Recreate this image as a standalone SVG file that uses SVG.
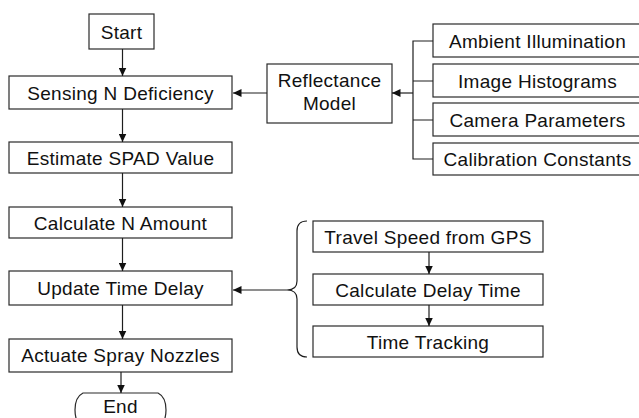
<svg xmlns="http://www.w3.org/2000/svg" width="639" height="418" viewBox="0 0 639 418">
  <style>
    .box { fill: #ffffff; stroke: #2a2a2a; stroke-width: 1.2; }
    .lbl { font-family: "Liberation Sans", Arial, sans-serif; font-size: 19px; letter-spacing: 0.3px; fill: #111111; text-anchor: middle; }
    .wire { fill: none; stroke: #1e1e1e; stroke-width: 1.2; }
  </style>
  <defs>
    <marker id="arrow" markerUnits="userSpaceOnUse" markerWidth="9" markerHeight="8" refX="8.5" refY="4" orient="auto">
      <path d="M0,0 L8.5,4 L0,8 Z" fill="#111111"/>
    </marker>
  </defs>
  <rect width="639" height="418" fill="#ffffff"/>

  <!-- main flow -->
  <g id="start">
    <rect class="box" x="89" y="14" width="65" height="35"/>
    <text class="lbl" x="121.5" y="39">Start</text>
  </g>
  <g id="sensing">
    <rect class="box" x="9" y="76" width="223" height="33"/>
    <text class="lbl" x="120.5" y="99.5">Sensing N Deficiency</text>
  </g>
  <g id="estimate">
    <rect class="box" x="9" y="142" width="223" height="31"/>
    <text class="lbl" x="120.5" y="164.5">Estimate SPAD Value</text>
  </g>
  <g id="calc-n">
    <rect class="box" x="9" y="207" width="223" height="31"/>
    <text class="lbl" x="120.5" y="229.5">Calculate N Amount</text>
  </g>
  <g id="update">
    <rect class="box" x="9" y="271" width="223" height="34"/>
    <text class="lbl" x="120.5" y="295">Update Time Delay</text>
  </g>
  <g id="actuate">
    <rect class="box" x="9" y="339" width="223" height="33"/>
    <text class="lbl" x="120.5" y="362">Actuate Spray Nozzles</text>
  </g>
  <g id="end">
    <path class="box" d="M83,393 L158,393 Q166,397 166,410 Q166,423 158,427 L83,427 Q75,423 75,410 Q75,397 83,393 Z"/>
    <text class="lbl" x="120.5" y="412.5">End</text>
  </g>

  <!-- reflectance model and its inputs -->
  <g id="reflectance">
    <rect class="box" x="267" y="64" width="125" height="59"/>
    <text class="lbl" x="329.5" y="87">Reflectance</text>
    <text class="lbl" x="329.5" y="110">Model</text>
  </g>
  <g id="ambient">
    <rect class="box" x="433" y="24" width="220" height="33"/>
    <text class="lbl" x="537.5" y="47.5">Ambient Illumination</text>
  </g>
  <g id="histograms">
    <rect class="box" x="433" y="64" width="220" height="33"/>
    <text class="lbl" x="537.5" y="87.5">Image Histograms</text>
  </g>
  <g id="camera">
    <rect class="box" x="433" y="103" width="220" height="33"/>
    <text class="lbl" x="537.5" y="126.5">Camera Parameters</text>
  </g>
  <g id="calibration">
    <rect class="box" x="433" y="143" width="220" height="32"/>
    <text class="lbl" x="537.5" y="166">Calibration Constants</text>
  </g>

  <!-- time delay sub-steps -->
  <g id="travel-speed">
    <rect class="box" x="313" y="221" width="230" height="31"/>
    <text class="lbl" x="428" y="244">Travel Speed from GPS</text>
  </g>
  <g id="calc-delay">
    <rect class="box" x="313" y="274" width="230" height="31"/>
    <text class="lbl" x="428" y="296.5">Calculate Delay Time</text>
  </g>
  <g id="time-tracking">
    <rect class="box" x="313" y="326" width="230" height="31"/>
    <text class="lbl" x="428" y="348.5">Time Tracking</text>
  </g>

  <g id="connectors">
    <line class="wire" x1="122.5" y1="49" x2="122.5" y2="76" marker-end="url(#arrow)"/>
    <line class="wire" x1="122.5" y1="109" x2="122.5" y2="142" marker-end="url(#arrow)"/>
    <line class="wire" x1="122.5" y1="173" x2="122.5" y2="207" marker-end="url(#arrow)"/>
    <line class="wire" x1="122.5" y1="238" x2="122.5" y2="271" marker-end="url(#arrow)"/>
    <line class="wire" x1="122.5" y1="305" x2="122.5" y2="339" marker-end="url(#arrow)"/>
    <line class="wire" x1="121" y1="372" x2="121" y2="393" marker-end="url(#arrow)"/>

    <line class="wire" x1="267" y1="93" x2="233" y2="93" marker-end="url(#arrow)"/>
    <path class="wire" d="M433,41 H413 V159 H433 M413,81 H433 M413,120 H433"/>
    <line class="wire" x1="413" y1="93" x2="392" y2="93" marker-end="url(#arrow)"/>

    <path class="wire" d="M307,221 Q297,221 297,231 L297,281 Q297,290 287,290 Q297,290 297,299 L297,347 Q297,357 307,357"/>
    <line class="wire" x1="287" y1="290" x2="233" y2="290" marker-end="url(#arrow)"/>

    <line class="wire" x1="429" y1="252" x2="429" y2="274" marker-end="url(#arrow)"/>
    <line class="wire" x1="429" y1="305" x2="429" y2="326" marker-end="url(#arrow)"/>
  </g>
</svg>
